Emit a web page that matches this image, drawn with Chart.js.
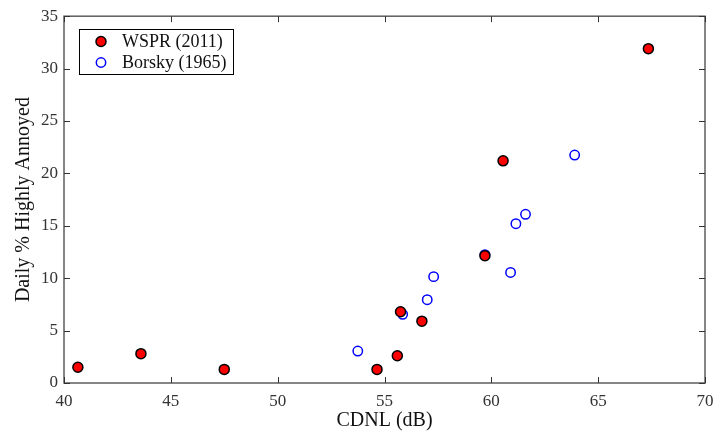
<!DOCTYPE html>
<html><head><meta charset="utf-8">
<script src="https://cdn.jsdelivr.net/npm/chart.js@4/dist/chart.umd.min.js"></script>
<style>html,body{margin:0;padding:0;background:#fff}#wrap{width:723px;height:435px}</style>
</head><body><div id="wrap"><canvas id="c" width="723" height="435"></canvas></div>
<script>
const wsprX = [40.65, 43.6, 47.5, 54.65, 55.6, 55.75, 56.75, 59.7, 60.55, 67.35];
const wsprY = [1.5, 2.8, 1.3, 1.3, 2.6, 6.8, 5.9, 12.15, 21.2, 31.9];
const borskyX = [53.75, 55.85, 57.0, 57.3, 59.7, 60.9, 61.15, 61.6, 63.9];
const borskyY = [3.05, 6.55, 7.95, 10.15, 12.25, 10.55, 15.2, 16.1, 21.75];
const xTicks = [40, 45, 50, 55, 60, 65, 70];
const yTicks = [0, 5, 10, 15, 20, 25, 30, 35];
const labels = ['WSPR (2011)', 'Borsky (1965)'];

const FONT = "'Liberation Serif', 'Times New Roman', serif";
const toPts = (xs, ys) => xs.map((x, i) => ({x, y: ys[i]}));

const framePlugin = {
  id: 'frame',
  afterDatasetsDraw(chart) {
    const {ctx, chartArea: a, scales} = chart;
    ctx.save();
    ctx.strokeStyle = '#5e5e5e';
    ctx.lineWidth = 1.5;
    ctx.strokeRect(a.left, a.top, a.right - a.left, a.bottom - a.top);
    ctx.strokeStyle = '#333';
    ctx.lineWidth = 1;
    const L = 6;
    xTicks.forEach(v => {
      const px = Math.round(scales.x.getPixelForValue(v)) + 0.5;
      ctx.beginPath();
      ctx.moveTo(px, a.bottom); ctx.lineTo(px, a.bottom - L);
      ctx.moveTo(px, a.top); ctx.lineTo(px, a.top + L);
      ctx.stroke();
    });
    yTicks.forEach(v => {
      const py = Math.round(scales.y.getPixelForValue(v)) + 0.5;
      ctx.beginPath();
      ctx.moveTo(a.left, py); ctx.lineTo(a.left + L, py);
      ctx.moveTo(a.right, py); ctx.lineTo(a.right - L, py);
      ctx.stroke();
    });
    // legend
    const bx = 79.5, by = 29.5, bw = 154, bh = 45;
    ctx.fillStyle = '#fff';
    ctx.fillRect(bx, by, bw, bh);
    ctx.strokeStyle = '#000';
    ctx.lineWidth = 1;
    ctx.strokeRect(bx, by, bw, bh);
    ctx.font = '18px ' + FONT;
    ctx.textBaseline = 'middle';
    ctx.textAlign = 'left';
    chart.data.datasets.forEach((ds, i) => {
      const cy = 41.5 + i * 21;
      ctx.beginPath();
      ctx.arc(101, cy, ds.pointRadius, 0, Math.PI * 2);
      if (ds.backgroundColor !== 'transparent') { ctx.fillStyle = ds.backgroundColor; ctx.fill(); }
      ctx.lineWidth = ds.borderWidth; ctx.strokeStyle = ds.borderColor; ctx.stroke();
      ctx.fillStyle = '#111';
      ctx.fillText(ds.label, 122, cy + 1);
    });
    ctx.restore();
  }
};

new Chart(document.getElementById('c'), {
  type: 'scatter',
  data: {
    datasets: [
      {label: labels[0], data: toPts(wsprX, wsprY), backgroundColor: '#ff0000', borderColor: '#000', borderWidth: 1.5, pointRadius: 5, pointHoverRadius: 5},
      {label: labels[1], data: toPts(borskyX, borskyY), backgroundColor: 'transparent', borderColor: '#0000ff', borderWidth: 1.5, pointRadius: 4.7, pointHoverRadius: 4.7}
    ]
  },
  options: {
    responsive: false, animation: false, devicePixelRatio: 1,
    layout: {padding: {left: 0, top: 14, right: 18, bottom: 0}},
    plugins: {legend: {display: false}, tooltip: {enabled: false}},
    scales: {
      x: {
        type: 'linear', min: 40, max: 70,
        afterBuildTicks: s => { s.ticks = xTicks.map(v => ({value: v})); },
        afterFit: s => { s.height = 52; },
        grid: {display: false, drawTicks: false},
        border: {display: false},
        ticks: {padding: 8, color: '#333', font: {family: FONT, size: 17}, maxRotation: 0},
        title: {display: true, text: 'CDNL (dB)', color: '#111', font: {family: FONT, size: 20}, padding: {top: 0, bottom: 2}}
      },
      y: {
        type: 'linear', min: 0, max: 35,
        afterBuildTicks: s => { s.ticks = yTicks.map(v => ({value: v})); },
        afterFit: s => { s.width = 64; },
        grid: {display: false, drawTicks: false},
        border: {display: false},
        ticks: {padding: 6, color: '#333', font: {family: FONT, size: 17}},
        title: {display: true, text: 'Daily % Highly Annoyed', color: '#111', font: {family: FONT, size: 20}, padding: {top: 12, bottom: 0}}
      }
    }
  },
  plugins: [framePlugin]
});
</script></body></html>
